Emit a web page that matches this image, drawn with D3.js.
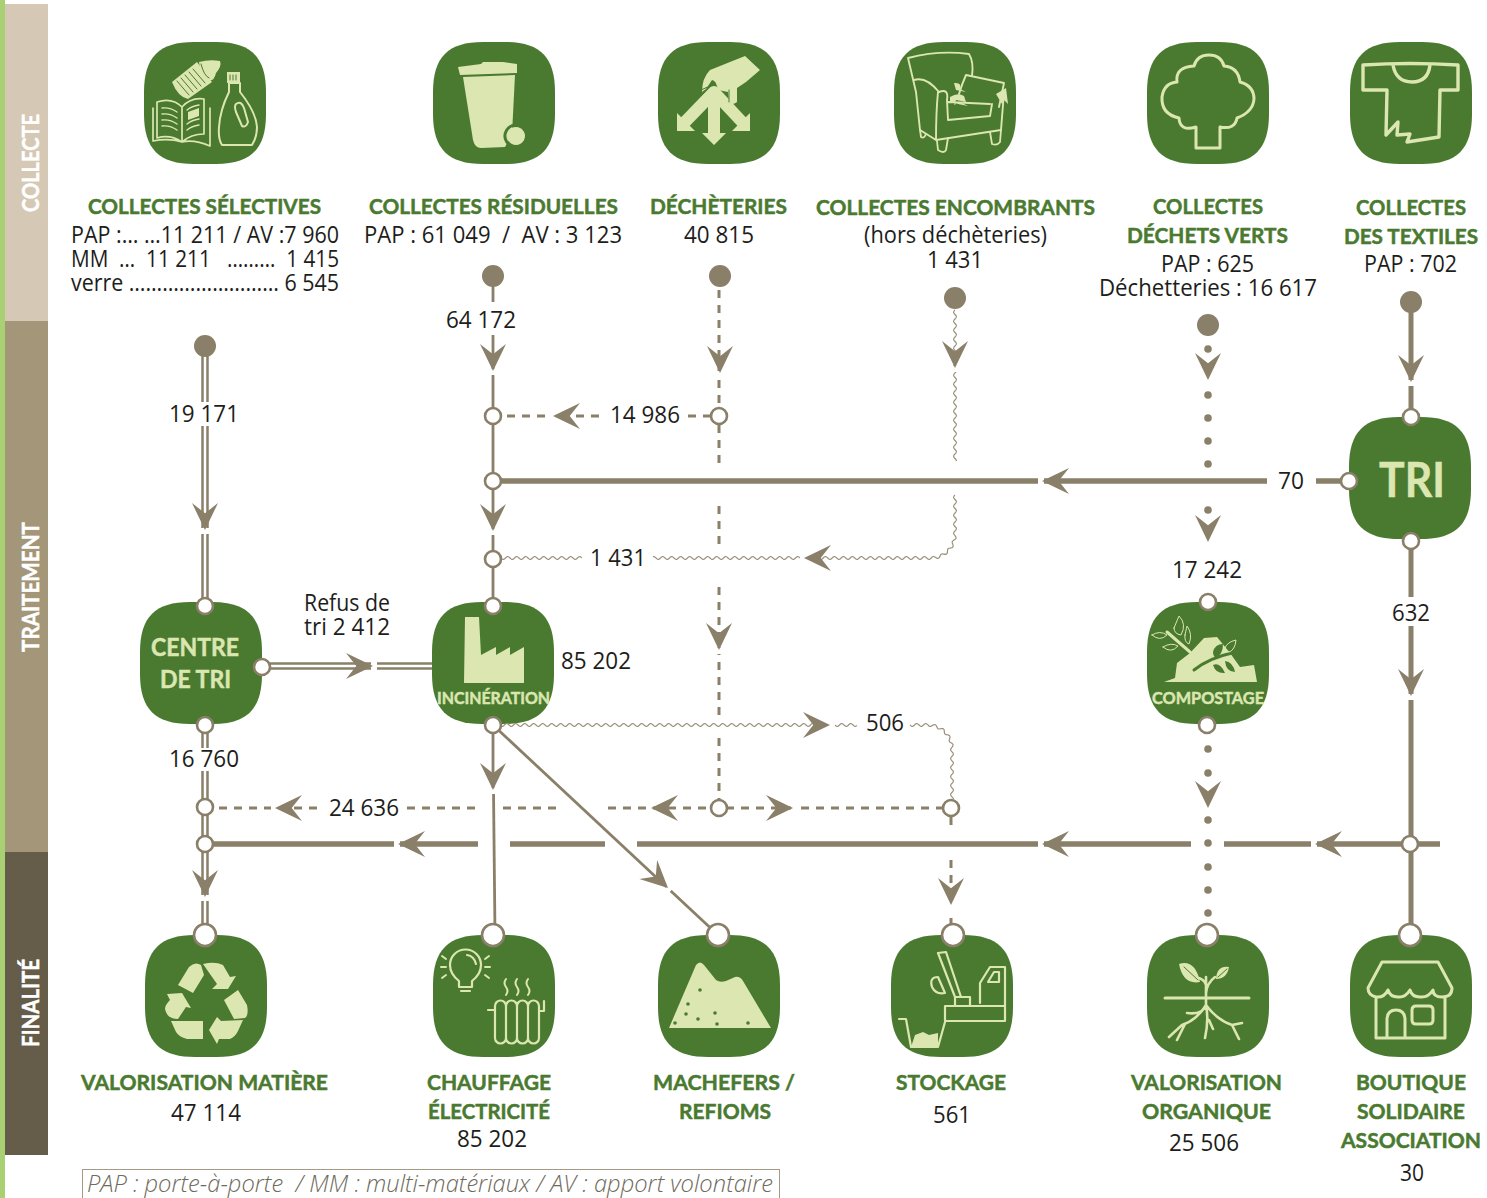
<!DOCTYPE html>
<html lang="fr">
<head>
<meta charset="utf-8">
<title>Flux de déchets</title>
<script src="https://cdn.jsdelivr.net/npm/d3@7"></script>
<style>
  html, body { margin: 0; background: #fff; }
  svg { display: block; }
  text { font-family: "Open Sans", "Noto Sans", sans-serif; }
  text.head { font-family: Lato, "Open Sans", sans-serif; stroke-width: 0.5px; }
</style>
</head>
<body>
<svg id="flux" width="1487" height="1198"></svg>
<script>
// ---- values and labels ----
const bandNames = ["COLLECTE", "TRAITEMENT", "FINALITÉ"];
const nodeIds = ["selective", "residuel", "decheterie", "encombrant", "vert", "textile",
  "centre", "incineration", "compost", "tri",
  "matiere", "chauffage", "machefer", "stockage", "organique", "boutique"];
const titleTexts = ["COLLECTES SÉLECTIVES", "COLLECTES RÉSIDUELLES", "DÉCHÈTERIES", "COLLECTES ENCOMBRANTS",
  "COLLECTES", "DÉCHETS VERTS", "COLLECTES", "DES TEXTILES",
  "VALORISATION MATIÈRE", "CHAUFFAGE", "ÉLECTRICITÉ", "MACHEFERS /", "REFIOMS", "STOCKAGE",
  "VALORISATION", "ORGANIQUE", "BOUTIQUE", "SOLIDAIRE", "ASSOCIATION"];
const collectTexts = ["PAP :… …11 211 / AV :7 960", "MM  …  11 211   ………  1 415", "verre ……………………… 6 545",
  "PAP : 61 049  /  AV : 3 123", "(hors déchèteries)", "PAP : 625", "Déchetteries : 16 617", "PAP : 702",
  "Refus de", "tri 2 412"];
const collectValues = [40815, 1431];
const flowValues = [19171, 64172, 14986, 70, 1431, 17242, 85202, 632, 16760, 24636, 506];
const finalValues = [47114, 85202, 561, 25506, 30];
const nodeTexts = ["CENTRE", "DE TRI", "TRI", "INCINÉRATION", "COMPOSTAGE"];
const legendText = "PAP : porte-à-porte  / MM : multi-matériaux / AV : apport volontaire";

// ---- layout (not data) ----
const colors = { dark: "#4a7a30", light: "#dbe6b0", flow: "#8a7f68", wave: "#9b917c", ink: "#1d1d1b" };
const bandBoxes = [[4, 321, "#d5c8b4", 163, 98], [321, 852, "#a49678", 587, 130], [852, 1155, "#655d4a", 1003, 88]];

const xCol = d3.scaleOrdinal(nodeIds, [144, 433, 658, 894, 1147, 1350, 140, 432, 1147, 1349, 145, 433, 658, 891, 1147, 1350]);
const yRow = d3.scaleOrdinal(nodeIds, [42, 42, 42, 42, 42, 42, 602, 602, 602, 417, 935, 935, 935, 935, 935, 935]);
const nodeSize = 122;

// left, width, baseline
const titleBoxes = [[88, 233, 214], [369, 249, 214], [650, 137, 214], [816, 279, 215], [1153, 110, 214], [1127, 161, 243], [1356, 110, 215], [1344, 134, 244],
  [81, 247, 1090], [427, 124, 1090], [428, 122, 1119], [653, 142, 1090], [679, 92, 1119], [896, 110, 1090],
  [1131, 151, 1090], [1142, 129, 1119], [1356, 110, 1090], [1357, 108, 1119], [1341, 140, 1148]];
const collectBoxes = [[71, 268, 243], [71, 268, 267], [71, 268, 291], [364, 258, 243], [864, 183, 243], [1161, 93, 272], [1099, 218, 296], [1364, 93, 272], [304, 86, 611], [304, 86, 635]];
const collectValueBoxes = [[684, 70, 243], [927, 56, 268]];
const flowBoxes = [[169, 70, 422], [446, 70, 328], [610, 70, 423], [1278, 26, 489], [590, 56, 566], [1172, 70, 578], [561, 70, 669], [1392, 38, 621], [169, 70, 767], [329, 70, 816], [866, 38, 731]];
const finalBoxes = [[171, 70, 1121], [457, 70, 1147], [933, 38, 1123], [1169, 70, 1151], [1400, 24, 1181]];
const nodeTextBoxes = [[151, 88, 656, 25], [160, 71, 688, 25], [1379, 66, 497, 48], [437, 113, 704, 17], [1152, 112, 704, 17]];

// flow lines: [x1, y1, x2, y2]
const doubleLines = [[205, 346, 205, 402], [205, 426, 205, 605], [205, 725, 205, 748], [205, 771, 205, 935], [262, 666, 432, 666]];
const thinLines = [[493, 276, 493, 302], [493, 335, 493, 606], [493, 725, 493, 790], [493.5, 790, 495, 935], [493, 725, 718, 935]];
const thickLines = [[500, 481, 1267, 481], [1316, 481, 1349, 481], [205, 844, 478, 844], [510, 844, 605, 844], [637, 844, 1191, 844], [1224, 844, 1440, 844]];
const heavyLines = [[1411, 302, 1411, 417], [1411, 541, 1411, 597], [1411, 626, 1411, 935]];
const dashLines = [[719, 290, 719, 466], [719, 506, 719, 549], [719, 587, 719, 716], [719, 738, 719, 800],
  [507, 416, 548, 416], [576, 416, 605, 416], [711, 416, 685, 416],
  [219, 808, 322, 808], [407, 808, 482, 808], [503, 808, 563, 808], [608, 808, 712, 808], [726, 808, 945, 808],
  [951, 817, 951, 826], [951, 860, 951, 900], [951, 918, 951, 930]];
const wavePaths = [
  [[955, 310], [955, 462]],
  [[955, 495], [955, 558], [820, 558]],
  [[800, 558], [652, 558]],
  [[582, 558], [501, 558]],
  [[500, 725], [815, 725]],
  [[835, 725], [858, 725]],
  [[910, 725], [952, 725], [952, 800]]
];
const dotsA = [349, 395, 418, 441, 464, 510, 749, 773, 820, 843, 867, 890, 913];
const sourceDots = [[205, 346], [493, 276], [720, 276], [955, 298], [1208, 325], [1411, 302]];
const ringSmall = [[205, 606], [493, 606], [262, 667], [205, 725], [493, 725], [205, 807], [205, 844], [493, 416], [493, 481], [493, 559],
  [719, 416], [1349, 481], [1411, 417], [1411, 541], [1208, 602], [1207, 725], [719, 808], [951, 808], [1410, 844]];
const ringLarge = [[205, 935], [493, 935], [718, 935], [953, 935], [1207, 935], [1410, 935]];
// arrow tips: [x, y, angle, halo width]
const arrows = [[205, 530, 0, 9], [493, 371, 0, 5], [720, 373, 0, 5], [955, 368, 0, 4], [1208, 380, 0, 0], [1411, 382, 0, 7],
  [493, 531, 0, 5], [1208, 542, 0, 0], [719, 650, 0, 5], [1411, 696, 0, 7], [1208, 808, 0, 0], [493, 790, 0, 5], [205, 897, 0, 9], [951, 905, 0, 5],
  [668, 888, -47, 5], [553, 416, 90, 5], [804, 558, 90, 4], [1042, 481, 90, 8], [398, 844, 90, 8], [1042, 844, 90, 8], [1315, 844, 90, 8],
  [275, 808, 90, 5], [651, 808, 90, 5], [793, 808, -90, 5], [373, 666, -90, 9], [830, 725, -90, 4]];

// node pictures, in the 122 x 122 box of a node
const F = "fill", S = "stroke", D = "darkfill";
const icons = {
  selective: [
    [F, "M28,40 L53,20 L68,40 L44,57 Q34,55 28,40 Z"],
    [S, "M33,39 L45,53 M37,36 L49,50 M41,33 L53,47 M45,30 L57,44 M49,27 L61,41", "dark", 1],
    [F, "M55,20 Q66,17 76,19 Q78,24 72,31 Q70,40 64,38 Q56,32 55,20 Z"],
    [S, "M57,22 Q60,34 65,36", "dark", 1],
    [S, "M13,60 Q28,55 38,65 V100 Q26,92 13,96 Z M38,65 Q47,55 60,57 V92 Q47,92 38,100 M9,66 V99 Q25,96 38,100 Q50,97 66,104 V66", "light", 1.7],
    [S, "M18,66 Q26,65 33,70 M18,72 Q26,71 33,76 M18,78 Q26,77 33,82 M18,84 Q26,83 33,88 M43,68 Q48,64 55,63 M43,82 Q48,78 55,77 M43,88 Q48,84 55,83", "light", 1.4],
    [F, "M44,70 L55,66 L55,74 L44,78 Z"],
    [S, "M85,41 V50 Q76,68 75,85 Q74,97 78,103 H108 Q113,95 113,85 Q112,70 96,50 V41 Z", "light", 2],
    [F, "M83,30 H96 V41 H83 Z"],
    [S, "M86,33 V38 M89,33 V38 M92,33 V38", "dark", 1],
    [S, "M92,62 Q97,58 100,66 L104,80 Q102,86 98,84 L92,70 Q90,64 92,62 Z", "light", 2]
  ],
  residuel: [
    [F, "M25,25 L48,22 L50,20 L70,20 L84,22 L84,31 L27,33 Z"],
    [F, "M30,35 L82,33 L79,92 L72,105 L48,106 Q42,106 40,98 Z"],
    [S, "M83,83 a11,11 0 1,0 0.01,0 Z", "dark", 3],
    [F, "M83,85 a9,9 0 1,0 0.01,0 Z"]
  ],
  decheterie: [
    [S, "M56,50 L26,81 M56,50 L85,81 M56,50 V92", "light", 12],
    [F, "M19,71 V89 H37 Z M92,71 V89 H74 Z M44,91 H68 L56,103 Z"],
    [F, "M52,28 L87,14 L102,28 L88,40 L79,46 L79,60 Q74,64 71,60 L70,50 L60,48 Q58,38 54,38 L48,47 L44,50 Q44,36 52,28 Z"],
    [S, "M43,48 L52,44 M71,48 V60", "dark", 1]
  ],
  encombrant: [
    [S, "M14,16 Q45,8 75,12 Q80,20 78,34 M14,16 L22,50 L26,88 L42,98 L107,88 L110,50 M20,38 Q32,34 45,50 Q55,46 53,58 L54,78 L96,74 L98,62 M72,33 L110,41 L105,65 M72,33 Q68,42 65,52 M44,50 Q42,70 42,98 M54,60 L96,62", "light", 1.9],
    [S, "M26,88 L27,95 Q30,97 32,92 M43,99 L44,108 Q50,112 52,108 L54,96 M96,90 L98,102 Q103,104 106,100 L107,88", "light", 1.8],
    [F, "M56,55 Q64,50 70,54 L72,60 L62,58 L60,63 L66,60 L74,64 L64,62 L56,60 Z M60,41 Q68,40 66,47 L72,50 L62,48 Z M102,52 L112,46 L114,62 L110,58 L108,62 Z"]
  ],
  vert: [
    [S, "M49,106 V85 Q33,90 32,76 Q14,72 15,55 Q17,41 30,40 Q28,25 47,24 Q50,13 62,13 Q74,13 77,24 Q91,25 93,40 Q107,44 107,57 Q106,70 90,76 Q88,88 73,85 V106 Z", "light", 3]
  ],
  textile: [
    [S, "M13,23 Q60,20 108,23 V48 H90 L89,95 L57,100 L60,92 L47,93 L48,80 L36,93 L37,48 H13 Z M43,23 Q46,40 62,40 Q78,40 80,23", "light", 3.4]
  ],
  centre: [],
  incineration: [
    [F, "M33,15 H47 L49,53 L64,45 V53 L78,45 V53 L92,45 V81 H32 Z"]
  ],
  compost: [
    [F, "M17,80 L28,76 L30,61 L43,51 L57,36 L70,35 L83,51 L93,65 L107,63 L110,80 Z"],
    [S, "M47,68 Q62,56 85,51", "dark", 3],
    [D, "M66,50 Q68,42 76,42 Q76,52 69,56 Q66,54 66,50 Z"],
    [D, "M66,63 Q73,60 78,71 Q69,72 66,63 Z M78,59 Q86,60 88,70 Q79,70 78,59 Z"],
    [S, "M20,30 L43,50", "light", 3],
    [S, "M5,33 Q13,28 20,33 Q13,40 5,33 Z M27,26 Q32,14 32,14 Q40,22 34,33 Q27,32 27,26 Z M38,33 Q40,24 40,24 Q46,32 42,42 Q37,40 38,33 Z M16,45 Q24,40 31,44 Q24,52 16,45 Z M78,46 Q80,40 89,38 Q88,48 82,50 Q78,49 78,46 Z", "light", 1]
  ],
  tri: [],
  matiere: [
    [F, "M58,29 Q70,26 78,30 L85,42 L91,41 L83,54 L67,54 L72,49 Z"],
    [F, "M33,50 L44,32 Q50,26 56,30 L59,40 L48,58 Z"],
    [F, "M22,59 L37,58 L46,73 L41,72 L33,84 Q22,84 20,74 Q20,70 25,65 Z"],
    [F, "M26,86 H58 V104 H42 Q34,102 31,97 Z"],
    [F, "M98,85 L76,86 L72,82 L64,95 L72,109 L74,104 L85,104 Q90,102 93,96 Z"],
    [F, "M79,65 L93,55 L102,70 Q104,80 100,83 L89,84 Z"]
  ],
  chauffage: [
    [S, "M26,46 Q17,39 17,30 A15.5,15.5 0 0,1 48,30 Q48,39 39,46 V52 H26 Z M28,56 H37 M34,20 Q41,21 43,29", "light", 2.2],
    [S, "M9,21 L13,24 M8,32 H13 M9,43 L13,40 M56,21 L52,24 M57,32 H52 M56,43 L52,40", "light", 2],
    [S, "M62,71 V103 a5.5,5.5 0 0,0 11,0 V71 a5.5,5.5 0 0,0 -11,0 Z M73,71 V103 a5.5,5.5 0 0,0 11,0 V71 a5.5,5.5 0 0,0 -11,0 Z M84,71 V103 a5.5,5.5 0 0,0 11,0 V71 a5.5,5.5 0 0,0 -11,0 Z M95,71 V103 a5.5,5.5 0 0,0 11,0 V71 a5.5,5.5 0 0,0 -11,0 Z M55,75 H62 M106,76 H111 V66", "light", 2.2],
    [S, "M73,44 Q70,48 73,52 Q76,56 73,60 M84,44 Q81,48 84,52 Q87,56 84,60 M95,44 Q92,48 95,52 Q98,56 95,60", "light", 2]
  ],
  machefer: [
    [F, "M11,93 L38,30 Q42,25 46,30 L58,45 Q62,48 68,46 L77,42 Q82,41 85,46 L113,93 Z"],
    ["dots", [[42, 55], [30, 69], [28, 79], [40, 84], [57, 78], [59, 89], [17, 88], [90, 88]]]
  ],
  stockage: [
    [S, "M47,18 L55,17 L70,62 H64 Z M47,42 Q38,42 41,52 Q45,60 54,58 Z M64,62 H79 V71 H64 Z M54,71 H114 V86 H54 Z M89,68 V48 L99,32 H114 V86 M97,47 L103,37 H108 V47 Z", "light", 2.2],
    [S, "M8,84 H15 L20,112 H47 L54,87", "light", 2.2],
    [F, "M20,112 L24,100 L32,97 L38,100 L47,98 V112 Z"]
  ],
  organique: [
    [S, "M18,63 H102", "light", 3],
    [S, "M59,58 Q62,43 46,42 M59,58 Q60,48 68,42 M59,42 V70 Q56,80 40,78 M59,70 Q50,85 35,90 L22,102 M38,89 L30,105 M59,70 Q62,85 58,103 M62,85 L66,94 M59,70 Q70,85 85,90 L92,104 M85,90 L95,88", "light", 2.6],
    [F, "M32,29 Q48,24 53,47 Q36,50 32,29 Z M69,44 Q70,30 82,32 Q80,44 69,44 Z"],
    [S, "M37,32 L51,45 M71,42 L80,34", "dark", 1]
  ],
  boutique: [
    [S, "M32,27 H88 L102,53 Q102,62 92,62 Q83,62 83,55 Q78,63 70,62 Q62,62 60,55 Q55,63 48,62 Q40,62 38,55 Q34,63 26,62 Q18,60 18,53 Z M26,62 V103 H95 V62 M37,103 V85 Q37,75 46,75 Q55,75 55,85 V103", "light", 3],
    [S, "M66,71 H79 Q83,71 83,75 V85 Q83,89 79,89 H66 Q62,89 62,85 V75 Q62,71 66,71 Z", "light", 3]
  ]
};

const svg = d3.select("#flux");
const thousands = d3.formatLocale({ decimal: ",", thousands: " ", grouping: [3], currency: ["", ""] }).format(",d");
const lineGen = d3.line();

// left bands
svg.append("rect").attr("x", 0).attr("y", 0).attr("width", 5).attr("height", 1198).attr("fill", "#a9d174");
svg.selectAll(".band").data(bandBoxes).enter().append("rect")
  .attr("class", "band").attr("x", 5).attr("width", 43)
  .attr("y", (d) => d[0]).attr("height", (d) => d[1] - d[0]).attr("fill", (d) => d[2]);
svg.selectAll(".band-label").data(bandNames).enter().append("text")
  .attr("class", "head")
  .attr("transform", (d, i) => `translate(39,${bandBoxes[i][3] + bandBoxes[i][4] / 2}) rotate(-90)`)
  .attr("textLength", (d, i) => bandBoxes[i][4]).attr("lengthAdjust", "spacingAndGlyphs")
  .style("font-size", "22px").style("font-weight", 700).attr("fill", "#fff").attr("stroke", "#fff").text((d) => d);

// green rounded squares
function squircle(w) {
  const r = 50, k = r * 0.3;
  return `M${r},0 H${w - r} C${w - k},0 ${w},${k} ${w},${r} V${w - r} C${w},${w - k} ${w - k},${w} ${w - r},${w} H${r} C${k},${w} 0,${w - k} 0,${w - r} V${r} C0,${k} ${k},0 ${r},0 Z`;
}
const nodes = svg.selectAll(".node").data(nodeIds).enter().append("g")
  .attr("class", "node").attr("transform", (d) => `translate(${xCol(d)},${yRow(d)})`);
nodes.append("path").attr("d", squircle(nodeSize)).attr("fill", colors.dark);
nodes.each(function (id) {
  const g = d3.select(this);
  icons[id].forEach((part) => {
    if (part[0] === "dots") {
      g.selectAll(".speck").data(part[1]).enter().append("circle").attr("class", "speck")
        .attr("cx", (d) => d[0]).attr("cy", (d) => d[1]).attr("r", 1.8).attr("fill", colors.dark);
    } else if (part[0] === F || part[0] === D) {
      g.append("path").attr("d", part[1]).attr("fill", part[0] === F ? colors.light : colors.dark);
    } else {
      g.append("path").attr("d", part[1]).attr("fill", "none")
        .attr("stroke", colors[part[2]]).attr("stroke-width", part[3])
        .attr("stroke-linejoin", "round").attr("stroke-linecap", "round");
    }
  });
});

// flow lines
function drawLines(data, width, stroke, dash) {
  svg.append("g").selectAll("line").data(data).enter().append("line")
    .attr("x1", (d) => d[0]).attr("y1", (d) => d[1]).attr("x2", (d) => d[2]).attr("y2", (d) => d[3])
    .attr("stroke", stroke).attr("stroke-width", width).attr("stroke-dasharray", dash || null);
}
drawLines(doubleLines, 7.5, colors.flow);
drawLines(doubleLines, 2.5, "#fff");
drawLines(dashLines, 3, colors.flow, "8 7");
drawLines(thickLines, 5.6, colors.flow);
drawLines(heavyLines, 5, colors.flow);
drawLines(thinLines, 2.8, colors.flow);

// wavy lines follow a rounded base path
function wavePath(pts) {
  const base = d3.path();
  base.moveTo(pts[0][0], pts[0][1]);
  if (pts.length === 3) base.arcTo(pts[1][0], pts[1][1], pts[2][0], pts[2][1], 24);
  base.lineTo(pts[pts.length - 1][0], pts[pts.length - 1][1]);
  const tmp = svg.append("path").attr("d", base.toString()).attr("fill", "none");
  const node = tmp.node(), len = node.getTotalLength();
  const out = d3.range(0, len, 1).map((s) => {
    const p = node.getPointAtLength(s), q = node.getPointAtLength(s + 0.5);
    const dx = q.x - p.x, dy = q.y - p.y, n = Math.hypot(dx, dy) || 1;
    const a = 1.5 * Math.sin(s * 2 * Math.PI / 9);
    return [p.x - (dy / n) * a, p.y + (dx / n) * a];
  });
  tmp.remove();
  return lineGen.curve(d3.curveBasis)(out);
}
svg.append("g").selectAll("path").data(wavePaths).enter().append("path")
  .attr("d", wavePath).attr("fill", "none").attr("stroke", colors.wave).attr("stroke-width", 1.2);

// dotted line
svg.append("g").selectAll("circle").data(dotsA).enter().append("circle")
  .attr("cx", 1208).attr("cy", (d) => d).attr("r", 3.8).attr("fill", colors.flow);

// arrow heads
const heads = svg.append("g").selectAll("g").data(arrows).enter().append("g")
  .attr("transform", (d) => `translate(${d[0]},${d[1]}) rotate(${d[2]})`);
heads.append("rect").attr("x", (d) => -d[3] / 2 - 1).attr("y", -2).attr("width", (d) => (d[3] ? d[3] + 2 : 0)).attr("height", 6).attr("fill", "#fff");
heads.append("path").attr("d", "M0,0 L-13,-27 L0,-16.7 L13,-27 Z").attr("fill", colors.flow);

// rings and source dots
svg.append("g").selectAll("circle").data(sourceDots).enter().append("circle")
  .attr("cx", (d) => d[0]).attr("cy", (d) => d[1]).attr("r", 11).attr("fill", colors.flow);
function drawRings(data, r) {
  svg.append("g").selectAll("circle").data(data).enter().append("circle")
    .attr("cx", (d) => d[0]).attr("cy", (d) => d[1]).attr("r", r)
    .attr("fill", "#fff").attr("stroke", colors.flow).attr("stroke-width", 2.6);
}
drawRings(ringSmall, 8);
drawRings(ringLarge, 11);

// all text: width is fitted to the reference
function drawText(labels, boxes, size, weight, fill, cls) {
  return svg.append("g").selectAll("text").data(labels).enter().append("text")
    .attr("class", cls || null)
    .attr("x", (d, i) => boxes[i][0]).attr("y", (d, i) => boxes[i][2])
    .attr("textLength", (d, i) => boxes[i][1]).attr("lengthAdjust", "spacingAndGlyphs")
    .style("font-size", (d, i) => (boxes[i][3] || size) + "px").style("font-weight", weight)
    .style("white-space", "pre").attr("fill", fill).attr("stroke", cls ? fill : null).text((d) => d);
}
drawText(titleTexts, titleBoxes, 21.5, 700, colors.dark, "head");
drawText(collectTexts, collectBoxes, 23, 400, colors.ink);
drawText(collectValues.map(thousands), collectValueBoxes, 23, 400, colors.ink);
drawText(flowValues.map(thousands), flowBoxes, 23, 400, colors.ink);
drawText(finalValues.map(thousands), finalBoxes, 23, 400, colors.ink);
drawText(nodeTexts, nodeTextBoxes, 25, 700, colors.light, "head");

// legend
svg.append("rect").attr("x", 82.5).attr("y", 1169.5).attr("width", 697).attr("height", 30)
  .attr("fill", "none").attr("stroke", "#a49a85");
drawText([legendText], [[87, 686, 1192]], 23, 300, "#6f6a5c").style("font-style", "italic");
</script>
</body>
</html>
